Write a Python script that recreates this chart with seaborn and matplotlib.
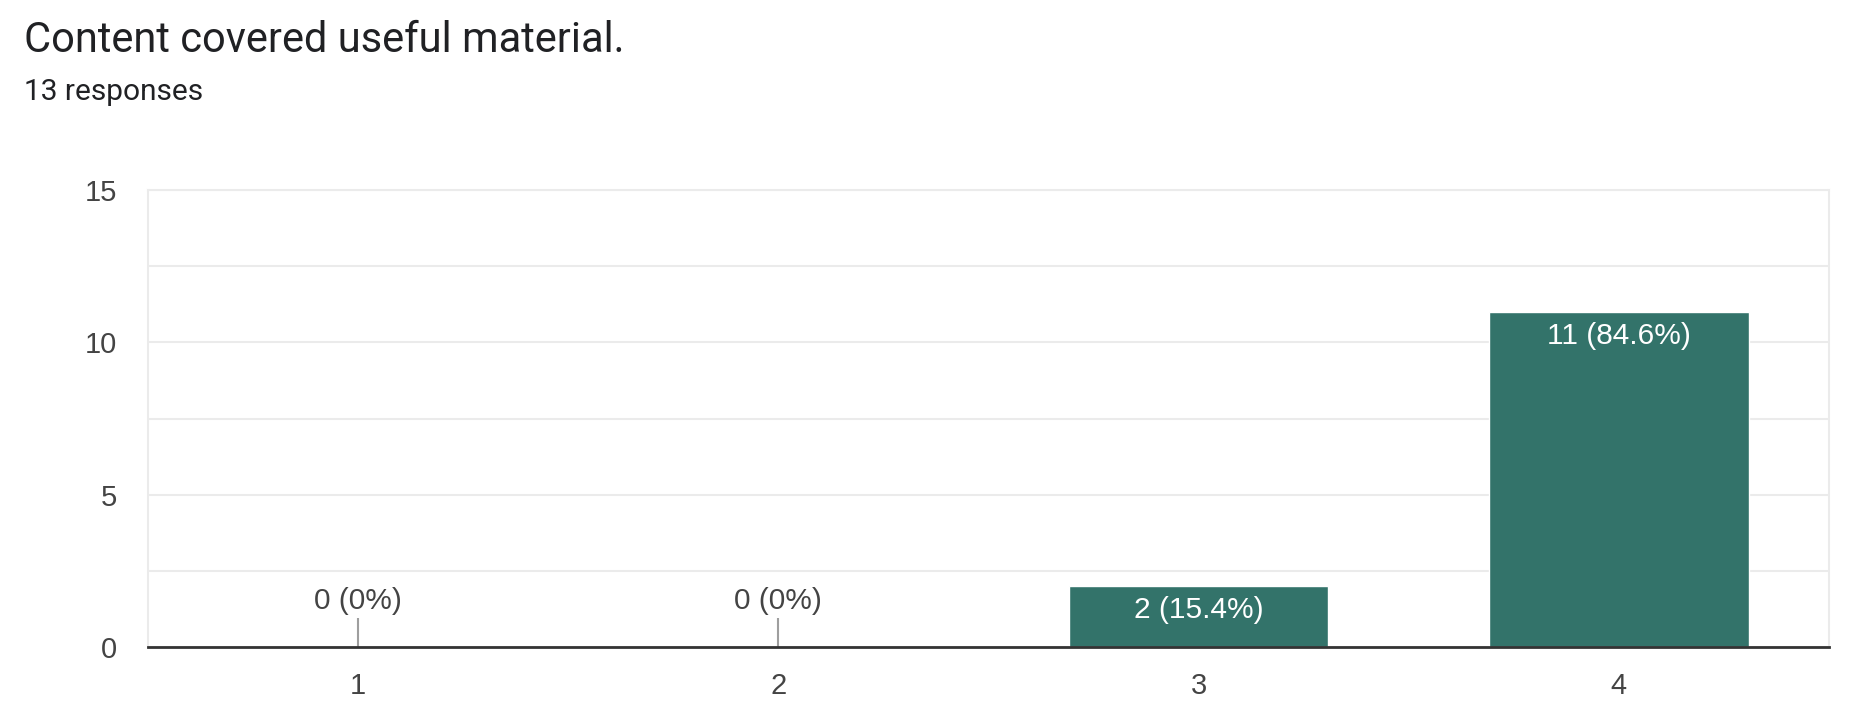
import matplotlib
matplotlib.use("Agg")
import matplotlib.pyplot as plt
import seaborn as sns
import pandas as pd
import numpy as np
from matplotlib.ticker import MultipleLocator

# data
categories = ["1", "2", "3", "4"]
counts = [0, 0, 2, 11]
total = 13
title = "Content covered useful material."
subtitle = f"{total} responses"

bar_color = "#33736a"
text_color = "#444444"

sns.set_style("white")
plt.rcParams['font.family'] = ['Liberation Sans', 'DejaVu Sans']

df = pd.DataFrame({"option": categories, "count": counts})

fig = plt.figure(figsize=(18.62, 7.22), dpi=100)
ax = fig.add_axes([148 / 1862, 1 - 647 / 722, (1829 - 148) / 1862, (647 - 190) / 722])

sns.barplot(data=df, x="option", y="count", color=bar_color, saturation=1,
            width=0.617, ax=ax, zorder=3)

ax.set_ylim(0, 15)
ax.set_xlim(-0.5, len(categories) - 0.5)
ax.yaxis.set_major_locator(MultipleLocator(5))
ax.yaxis.set_minor_locator(MultipleLocator(2.5))
ax.grid(axis="y", which="both", color="#ebebeb", linewidth=1.5, zorder=0)
ax.set_axisbelow(True)
ax.set_xlabel("")
ax.set_ylabel("")

for side in ["left", "right", "top"]:
    ax.spines[side].set_color("#ebebeb")
    ax.spines[side].set_linewidth(1.5)
ax.spines["bottom"].set_color("#333333")
ax.spines["bottom"].set_linewidth(2)
ax.spines["bottom"].set_zorder(5)

ax.tick_params(axis="both", which="both", length=0, labelsize=21, colors=text_color)
ax.tick_params(axis="y", pad=22)
ax.tick_params(axis="x", pad=18)

# value labels
for i, c in enumerate(counts):
    pct = c / total * 100
    pct_txt = f"{pct:.0f}%" if pct == 0 else f"{pct:.1f}%"
    label = f"{c} ({pct_txt})"
    if c == 0:
        ax.vlines(i, 0, 0.95, color="#9e9e9e", linewidth=1.5, zorder=4)
        ax.annotate(label, (i, 0.95), xytext=(0, 2), textcoords="offset points",
                    ha="center", va="bottom", fontsize=21.5, color=text_color)
    else:
        ax.annotate(label, (i, c), xytext=(0, -7), textcoords="offset points",
                    ha="center", va="top", fontsize=21.5, color="white", zorder=6)

fig.text(24 / 1862, 1 - 40 / 722, title, fontsize=30, family=["Roboto", "DejaVu Sans"],
         color="#202124", va="center", ha="left")
fig.text(24 / 1862, 1 - 92 / 722, subtitle, fontsize=21.5, family=["Roboto", "DejaVu Sans"],
         color="#202124", va="center", ha="left")

fig.savefig("out.png", dpi=100, facecolor="white")
plt.close(fig)
